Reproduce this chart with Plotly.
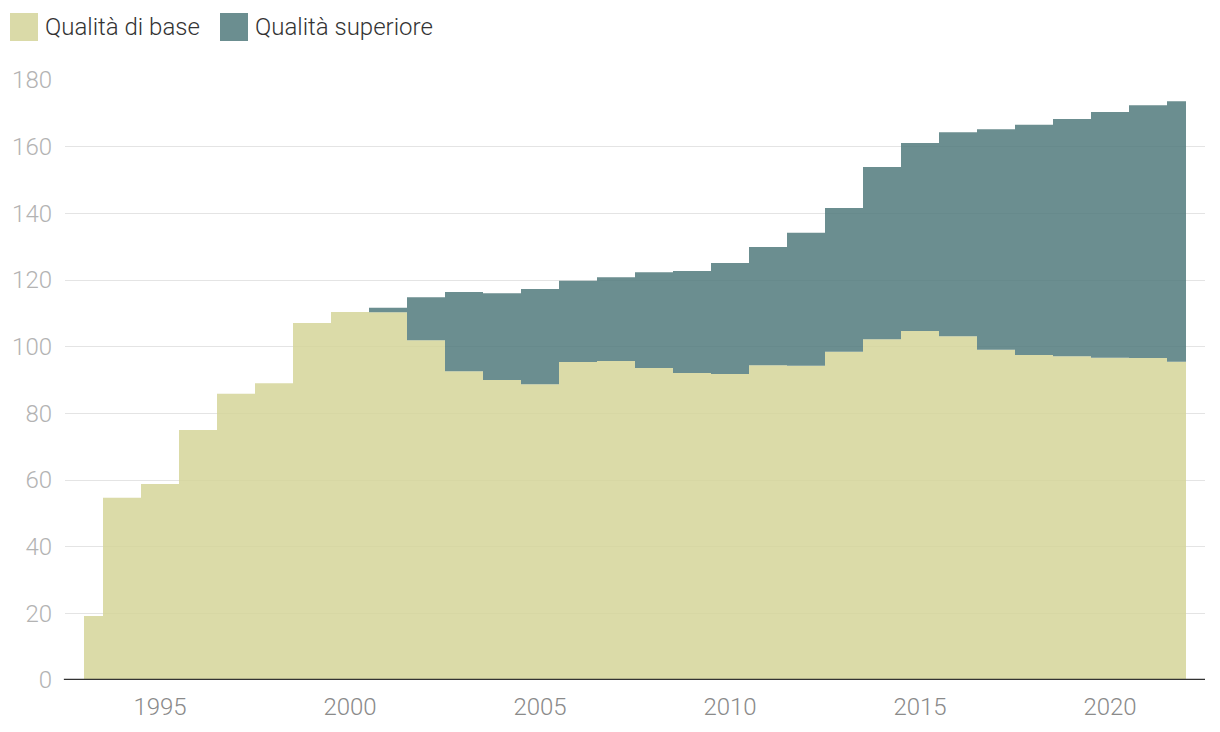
import plotly.graph_objects as go

years = list(range(1993, 2023))
base = [19.2, 54.7, 58.8, 75.0, 85.9, 89.0, 107.1, 110.4, 110.3, 101.9,
        92.6, 90.0, 88.7, 95.4, 95.7, 93.6, 92.1, 91.8, 94.4, 94.3,
        98.5, 102.2, 104.7, 103.1, 99.1, 97.5, 97.1, 96.7, 96.6, 95.5]
superiore = [0, 0, 0, 0, 0, 0, 0, 0, 1.4, 12.9,
             23.8, 26.0, 28.6, 24.4, 25.1, 28.7, 30.6, 33.3, 35.5, 39.9,
             43.1, 51.7, 56.4, 61.2, 66.1, 69.1, 71.2, 73.7, 75.8, 78.1]
names = ["Qualità di base", "Qualità superiore"]
fill_colors = ["rgba(213,213,153,0.85)", "rgba(81,122,124,0.85)"]
legend_colors = ["#dadaa8", "#6b8e90"]
y_ticks = list(range(0, 181, 20))
x_ticks = [1995, 2000, 2005, 2010, 2015, 2020]

FONT = "Roboto"

fig = go.Figure()
for vals, name, fc in zip([base, superiore], names, fill_colors):
    fig.add_trace(go.Scatter(
        x=years, y=vals, name=name, stackgroup="one", mode="lines",
        line=dict(width=0, shape="hvh"), fillcolor=fc, showlegend=False,
        hoverinfo="skip"))

fig.update_layout(
    width=1220, height=732,
    margin=dict(l=57, r=23, t=72, b=60),
    paper_bgcolor="white", plot_bgcolor="white",
    font=dict(family=FONT),
    showlegend=False,
    xaxis=dict(range=[1992.5, 2022.5], tickvals=x_ticks,
               ticktext=[str(v) for v in x_ticks], automargin=False,
               showgrid=False, zeroline=False, showline=False,
               ticks="", tickfont=dict(size=24, color="#8a8a8a", family=FONT, weight=300),
               ticklabelstandoff=10, fixedrange=True),
    yaxis=dict(range=[0, 180], tickvals=y_ticks, showgrid=True, automargin=False,
               gridcolor="#e4e4e4", gridwidth=1, zeroline=False,
               showline=False, ticks="",
               tickfont=dict(size=24, color="#b3b3b3", family=FONT, weight=300),
               ticklabelstandoff=12, fixedrange=True),
)
# baseline axis line
fig.add_shape(type="line", xref="paper", yref="y", x0=-0.001, x1=1, y0=0, y1=0,
              line=dict(color="#333333", width=2.5), layer="above")

# legend drawn as squares + labels above the plot area (pixel offsets from plot top-left)
leg_x = [-55, 155]
for lx, name, lc in zip(leg_x, names, legend_colors):
    fig.add_shape(type="rect", xref="paper", yref="paper",
                  xsizemode="pixel", ysizemode="pixel", xanchor=0, yanchor=1,
                  x0=lx, x1=lx + 28, y0=39, y1=67,
                  fillcolor=lc, line=dict(width=0))
    fig.add_annotation(xref="paper", yref="paper",
                       x=(lx + 33) / 1140, y=1 + 53 / 600,
                       xanchor="left", yanchor="middle", showarrow=False,
                       text=name, font=dict(size=24, color="#333333", family=FONT, weight=300))

fig.write_html("out.html")
